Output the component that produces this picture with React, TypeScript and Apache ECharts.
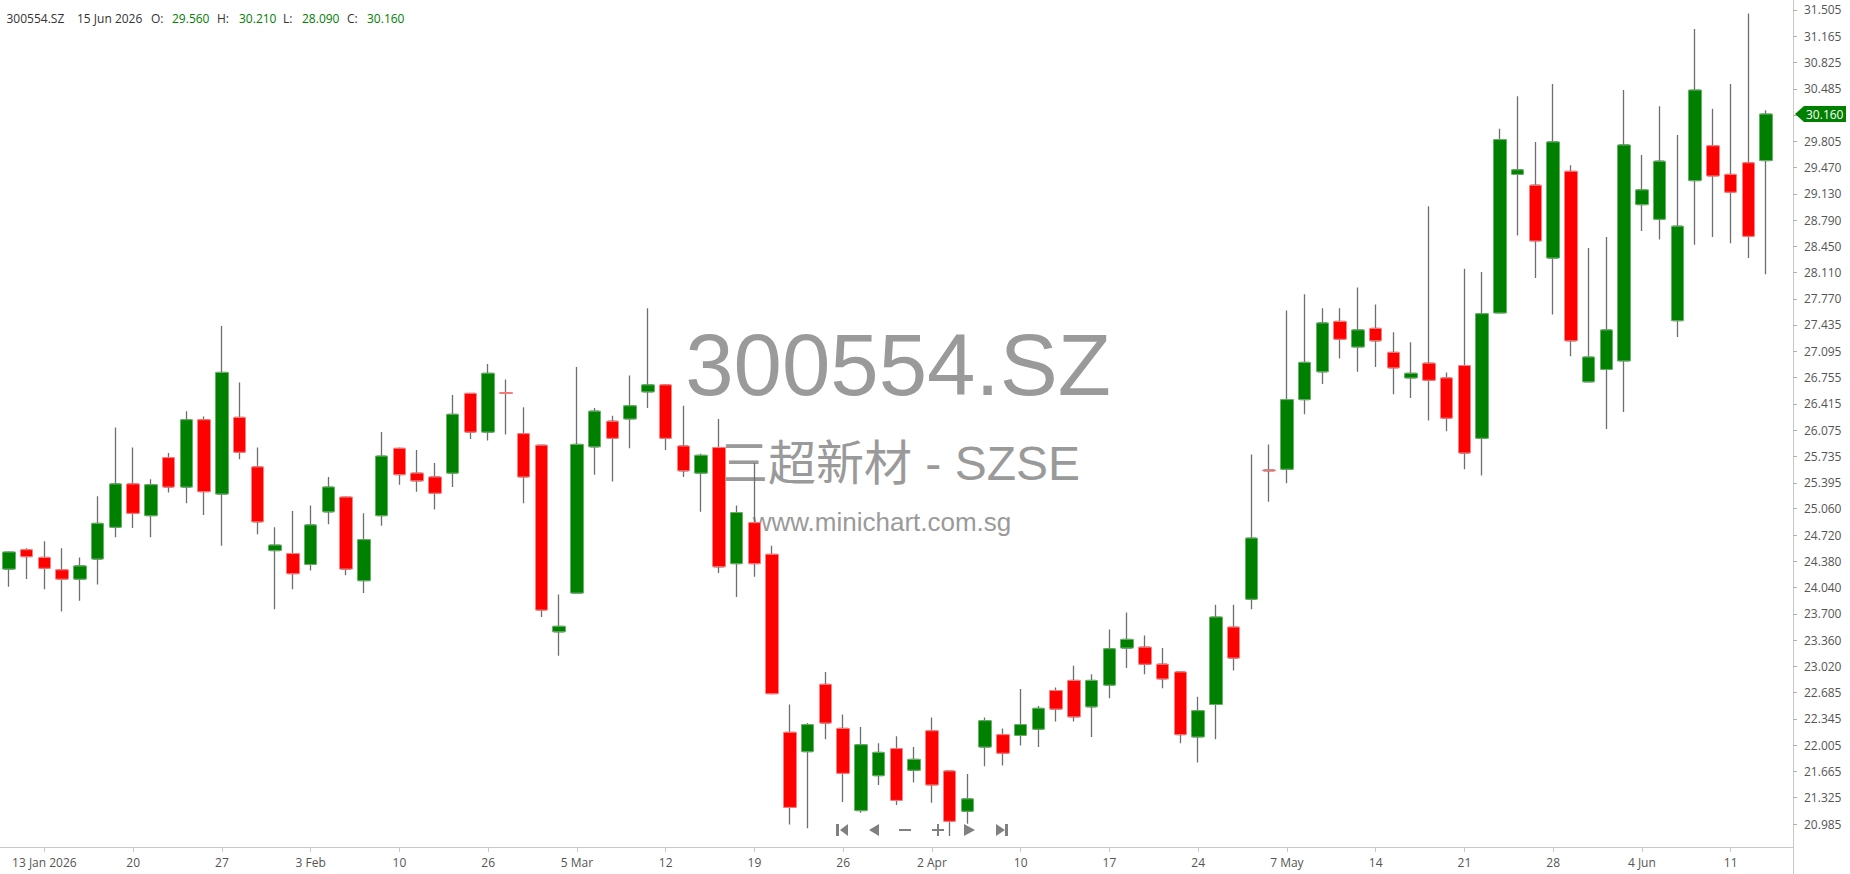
import React, { useEffect, useRef } from "react";
import * as echarts from "echarts";

// ---- data ----
const dates = [
  "2026-01-09","2026-01-12","2026-01-13","2026-01-14","2026-01-15","2026-01-16","2026-01-19","2026-01-20","2026-01-21","2026-01-22",
  "2026-01-23","2026-01-26","2026-01-27","2026-01-28","2026-01-29","2026-01-30","2026-02-02","2026-02-03","2026-02-04","2026-02-05",
  "2026-02-06","2026-02-09","2026-02-10","2026-02-11","2026-02-12","2026-02-13","2026-02-25","2026-02-26","2026-02-27","2026-03-02",
  "2026-03-03","2026-03-04","2026-03-05","2026-03-06","2026-03-09","2026-03-10","2026-03-11","2026-03-12","2026-03-13","2026-03-16",
  "2026-03-17","2026-03-18","2026-03-19","2026-03-20","2026-03-23","2026-03-24","2026-03-25","2026-03-26","2026-03-27","2026-03-30",
  "2026-03-31","2026-04-01","2026-04-02","2026-04-03","2026-04-07","2026-04-08","2026-04-09","2026-04-10","2026-04-13","2026-04-14",
  "2026-04-15","2026-04-16","2026-04-17","2026-04-20","2026-04-21","2026-04-22","2026-04-23","2026-04-24","2026-04-27","2026-04-28",
  "2026-04-29","2026-04-30","2026-05-07","2026-05-08","2026-05-11","2026-05-12","2026-05-13","2026-05-14","2026-05-15","2026-05-18",
  "2026-05-19","2026-05-20","2026-05-21","2026-05-22","2026-05-25","2026-05-26","2026-05-27","2026-05-28","2026-05-29","2026-06-01",
  "2026-06-02","2026-06-03","2026-06-04","2026-06-05","2026-06-08","2026-06-09","2026-06-10","2026-06-11","2026-06-12","2026-06-15",
];

const opens = [
  24.28,24.53,24.43,24.27,24.15,24.41,24.82,25.38,24.97,25.72,
  25.34,26.21,25.25,26.24,25.60,24.52,24.48,24.34,25.02,25.21,
  24.13,24.97,25.84,25.52,25.47,25.52,26.55,26.05,26.56,26.03,
  25.88,23.47,23.97,25.86,26.19,26.22,26.57,26.66,25.87,25.52,
  25.85,24.35,24.88,24.47,22.17,21.92,22.79,22.22,21.16,21.61,
  21.96,21.68,22.19,21.67,21.15,21.98,22.14,22.13,22.21,22.71,
  22.84,22.50,22.78,23.26,23.27,23.05,22.95,22.11,22.53,23.53,
  23.89,25.56,25.57,26.47,26.83,27.48,27.15,27.39,27.08,26.75,
  26.94,26.75,26.91,25.97,27.59,29.38,29.24,28.30,29.42,26.70,
  26.86,26.97,28.99,28.80,27.49,29.30,29.75,29.38,29.53,29.56,
];
const closes = [
  24.50,24.44,24.29,24.15,24.32,24.87,25.38,25.00,25.37,25.34,
  26.21,25.28,26.82,25.79,24.89,24.59,24.22,24.85,25.34,24.28,
  24.66,25.74,25.50,25.42,25.26,26.28,26.05,26.81,26.55,25.47,
  23.75,23.54,25.89,26.32,25.97,26.39,26.66,25.97,25.55,25.75,
  24.31,25.01,24.35,22.67,21.20,22.27,22.29,21.64,22.01,21.91,
  21.29,21.82,21.49,21.02,21.31,22.32,21.90,22.27,22.48,22.47,
  22.37,22.84,23.25,23.37,23.05,22.86,22.14,22.45,23.66,23.13,
  24.68,25.55,26.47,26.95,27.46,27.25,27.37,27.23,26.88,26.81,
  26.72,26.23,25.78,27.58,29.83,29.44,28.52,29.80,27.23,27.02,
  27.37,29.76,29.18,29.55,28.71,30.47,29.36,29.15,28.58,30.16,
];
const lows = [
  24.05,24.15,24.02,23.73,23.87,24.08,24.69,24.81,24.69,25.27,
  25.13,24.98,24.58,25.70,24.73,23.76,24.02,24.26,24.86,24.20,
  23.97,24.84,25.37,25.28,25.05,25.34,25.96,25.94,26.02,25.13,
  23.66,23.16,23.97,25.50,25.41,25.84,26.36,25.82,25.47,25.02,
  24.23,23.92,24.18,22.66,20.98,20.93,22.08,21.27,21.13,21.49,
  21.23,21.52,21.26,20.83,20.99,21.73,21.74,22.00,21.98,22.31,
  22.31,22.11,22.61,23.00,22.92,22.74,22.03,21.78,22.08,22.97,
  23.76,25.15,25.39,26.28,26.67,27.00,26.83,26.89,26.54,26.49,
  26.20,26.06,25.57,25.49,27.59,28.59,28.04,27.57,27.03,26.70,
  26.09,26.31,28.65,28.54,27.28,28.47,28.57,28.49,28.30,28.09,
];
const highs = [
  24.51,24.55,24.64,24.55,24.43,25.22,26.11,25.85,25.44,25.78,
  26.32,26.25,27.42,26.69,25.85,24.82,25.03,25.10,25.47,25.22,
  25.00,26.05,25.85,25.82,25.65,26.53,26.56,26.93,26.73,26.37,
  25.89,23.95,26.89,26.36,26.26,26.78,27.65,26.67,26.39,25.77,
  26.22,25.10,25.65,24.58,22.53,22.29,22.95,22.40,22.24,22.03,
  22.12,21.98,22.36,21.68,21.63,22.36,22.22,22.73,22.51,22.75,
  23.03,22.92,23.50,23.72,23.42,23.26,22.96,22.63,23.82,23.82,
  25.76,25.89,27.62,27.83,27.65,27.65,27.92,27.70,27.34,27.21,
  28.97,26.82,28.16,28.12,29.97,30.39,29.80,30.55,29.50,28.43,
  28.57,30.47,29.63,30.26,29.89,31.26,30.23,30.55,31.46,30.21,
];

const xTickDates = [
  "2026-01-13","2026-01-20","2026-01-27","2026-02-03","2026-02-10","2026-02-26","2026-03-05","2026-03-12","2026-03-19","2026-03-26",
  "2026-04-02","2026-04-10","2026-04-17","2026-04-24","2026-05-07","2026-05-14","2026-05-21","2026-05-28","2026-06-04","2026-06-11",
];
const xTickLabels = [
  "13 Jan 2026","20","27","3 Feb","10","26","5 Mar","12","19","26",
  "2 Apr","10","17","24","7 May","14","21","28","4 Jun","11",
];
const yTickLabels = [
  "31.505","31.165","30.825","30.485","30.145","29.805","29.470","29.130","28.790","28.450",
  "28.110","27.770","27.435","27.095","26.755","26.415","26.075","25.735","25.395","25.060",
  "24.720","24.380","24.040","23.700","23.360","23.020","22.685","22.345","22.005","21.665",
  "21.325","20.985",
];
const yMin = 20.688;
const yMax = 31.634;

const symbolName = "300554.SZ";
const companyName = "三超新材 - SZSE";
const siteName = "www.minichart.com.sg";
const monthNames = ["Jan","Feb","Mar","Apr","May","Jun","Jul","Aug","Sep","Oct","Nov","Dec"];

// ---- layout constants ----
const W = 1850;
const H = 874;
const GRID_RIGHT = 75;
const GRID_BOTTOM = 27;
const Y_OFFSET = 18;
const UP = "#008000";
const DOWN = "#ff0000";
const AXIS = "#c8c8c8";
const WICK = "#6e6e6e";
const FONT = "'Open Sans', 'Noto Sans', sans-serif";

function fmtDate(d: string) {
  const [y, m, day] = d.split("-");
  return `${parseInt(day, 10)} ${monthNames[parseInt(m, 10) - 1]} ${y}`;
}

export default function App() {
  const ref = useRef<HTMLDivElement | null>(null);

  useEffect(() => {
    if (!ref.current) return;
    const chart = echarts.init(ref.current, undefined, { renderer: "svg" });

    const tickIdx = new Set(xTickDates.map((d) => dates.indexOf(d)));
    const yTickValues = yTickLabels.map(Number);
    const wickData = dates.map((_, i) => [opens[i], closes[i], lows[i], highs[i]]);
    const bodyData = dates.map((_, i) => [
      opens[i], closes[i], Math.min(opens[i], closes[i]), Math.max(opens[i], closes[i]),
    ]);

    const last = dates.length - 1;
    const headerItems: { t: string; x: number; c: string }[] = [
      { t: symbolName, x: 6.5, c: "#333" },
      { t: fmtDate(dates[last]), x: 77, c: "#333" },
      { t: "O:", x: 151, c: "#333" },
      { t: opens[last].toFixed(3), x: 172, c: UP },
      { t: "H:", x: 217, c: "#333" },
      { t: highs[last].toFixed(3), x: 239, c: UP },
      { t: "L:", x: 283, c: "#333" },
      { t: lows[last].toFixed(3), x: 302, c: UP },
      { t: "C:", x: 347, c: "#333" },
      { t: closes[last].toFixed(3), x: 367, c: UP },
    ];

    const navColor = "#808080";
    const navY = 830;
    const nav: any[] = [
      { type: "rect", shape: { x: 836, y: navY - 6, width: 3, height: 12 } },
      { type: "polygon", shape: { points: [[848, navY - 6], [848, navY + 6], [840, navY]] } },
      { type: "polygon", shape: { points: [[879, navY - 6], [879, navY + 6], [869, navY]] } },
      { type: "rect", shape: { x: 899, y: navY - 1, width: 12, height: 2 } },
      { type: "rect", shape: { x: 932, y: navY - 1, width: 12, height: 2 } },
      { type: "rect", shape: { x: 937, y: navY - 6, width: 2, height: 12 } },
      { type: "polygon", shape: { points: [[964, navY - 6], [964, navY + 6], [975, navY]] } },
      { type: "polygon", shape: { points: [[996, navY - 6], [996, navY + 6], [1005, navY]] } },
      { type: "rect", shape: { x: 1005, y: navY - 6, width: 3, height: 12 } },
    ].map((e) => ({ ...e, z: 50, silent: true, style: { fill: navColor } }));

    const axisX = W - GRID_RIGHT + Y_OFFSET;
    const axisBottom = H - GRID_BOTTOM;

    const graphics: any[] = [
      {
        type: "text", z: 0, silent: true, x: 898, y: 364,
        style: { text: symbolName, fontSize: 87, fontFamily: "'Liberation Sans', Arial, sans-serif", fill: "#9a9a9a", align: "center", verticalAlign: "middle" },
      },
      {
        type: "text", z: 0, silent: true, x: 900, y: 463,
        style: { text: companyName, fontSize: 48, fontFamily: "'Liberation Sans', 'Noto Sans CJK SC', sans-serif", fill: "#9a9a9a", align: "center", verticalAlign: "middle" },
      },
      {
        type: "text", z: 0, silent: true, x: 882, y: 522,
        style: { text: siteName, fontSize: 26, fontFamily: "'Liberation Sans', Arial, sans-serif", fill: "#9a9a9a", align: "center", verticalAlign: "middle" },
      },
      ...headerItems.map((h) => ({
        type: "text", z: 50, silent: true, x: h.x, y: 18,
        style: { text: h.t, fontSize: 12, fontFamily: FONT, fill: h.c, align: "left", verticalAlign: "middle" },
      })),
      ...nav,
      {
        type: "line", z: 50, silent: true,
        shape: { x1: axisX + 0.5, y1: axisBottom, x2: axisX + 0.5, y2: H },
        style: { stroke: AXIS, lineWidth: 1 },
      },
      {
        type: "line", z: 50, silent: true,
        shape: { x1: W - GRID_RIGHT, y1: axisBottom + 0.5, x2: axisX + 1, y2: axisBottom + 0.5 },
        style: { stroke: AXIS, lineWidth: 1 },
      },
    ];

    chart.setOption({
      animation: false,
      textStyle: { fontFamily: FONT },
      grid: { left: 0, right: GRID_RIGHT, top: 0, bottom: GRID_BOTTOM, containLabel: false, outerBoundsMode: "none" },
      xAxis: {
        type: "category",
        data: dates,
        boundaryGap: true,
        axisLine: { show: true, lineStyle: { color: AXIS } },
        axisTick: {
          show: true,
          alignWithLabel: true,
          interval: (i: number) => tickIdx.has(i),
          length: 5,
          lineStyle: { color: AXIS },
        },
        axisLabel: {
          interval: (i: number) => tickIdx.has(i),
          formatter: (v: string) => {
            const k = xTickDates.indexOf(v);
            return k >= 0 ? xTickLabels[k] : "";
          },
          color: "#555",
          fontSize: 12,
          fontFamily: FONT,
          margin: 9,
        },
        splitLine: { show: false },
      },
      yAxis: {
        type: "value",
        position: "right",
        offset: Y_OFFSET,
        min: yMin,
        max: yMax,
        scale: true,
        axisLine: { show: true, lineStyle: { color: AXIS } },
        axisTick: { show: true, customValues: yTickValues, length: 4, lineStyle: { color: "#b0b0b0" } },
        axisLabel: {
          customValues: yTickValues,
          formatter: (v: number) => {
            const k = yTickValues.findIndex((t) => Math.abs(t - v) < 1e-6);
            return k >= 0 ? yTickLabels[k] : "";
          },
          color: "#555",
          fontSize: 12,
          fontFamily: FONT,
          margin: 11,
        },
        splitLine: { show: false },
      },
      series: [
        {
          name: "wick",
          type: "candlestick",
          data: wickData,
          barWidth: 9,
          silent: true,
          itemStyle: { color: WICK, color0: WICK, borderColor: WICK, borderColor0: WICK, borderWidth: 1.3 },
        },
        {
          name: "body",
          type: "candlestick",
          data: bodyData,
          barWidth: 13,
          silent: true,
          itemStyle: { color: UP, color0: DOWN, borderColor: "#66b366", borderColor0: "#ff8080", borderWidth: 1 },
        },
      ],
      graphic: { elements: graphics },
    });

    const tagY = chart.convertToPixel({ yAxisIndex: 0 }, closes[last]) as number;
    const tx = axisX + 2;
    chart.setOption({
      graphic: {
        elements: [
          ...graphics,
          {
            type: "polygon", z: 60, silent: true,
            shape: { points: [[tx, tagY], [tx + 9, tagY - 8], [W - 4, tagY - 8], [W - 4, tagY + 8], [tx + 9, tagY + 8]] },
            style: { fill: UP },
          },
          {
            type: "text", z: 61, silent: true, x: tx + 11, y: tagY,
            style: { text: closes[last].toFixed(3), fontSize: 12, fontFamily: FONT, fill: "#ffffff", align: "left", verticalAlign: "middle" },
          },
        ],
      },
    });

    return () => chart.dispose();
  }, []);

  return (
    <div
      ref={ref}
      style={{ position: "fixed", left: 0, top: 0, width: W, height: H, background: "#ffffff" }}
    />
  );
}
